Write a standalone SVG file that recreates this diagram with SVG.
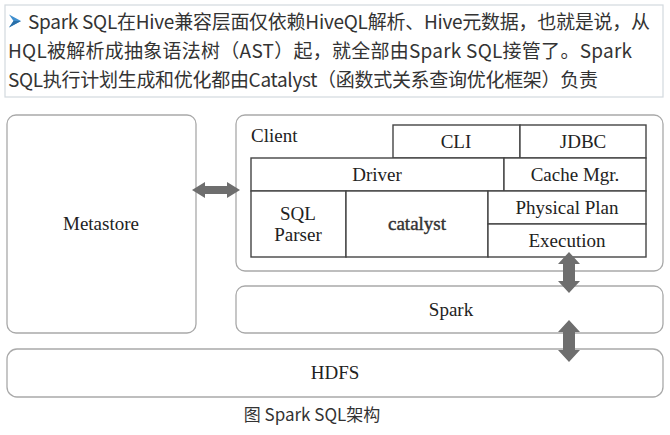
<svg xmlns="http://www.w3.org/2000/svg" width="670" height="435" viewBox="0 0 670 435">
<style>
.outer{fill:#fff;stroke:#a9a9a9;stroke-width:1.3}
.cell{fill:#fff;stroke:#454545;stroke-width:1.4}
.lbl{font-family:"Liberation Serif","Times New Roman",serif;font-size:19px;fill:#222;text-anchor:middle}
.cn{font-family:"Noto Sans CJK SC","Noto Sans",sans-serif;font-size:19px;fill:#333}
.arr{fill:#6e6e6e}
</style>
<rect width="670" height="435" fill="#fff"/>
<g id="intro">
<rect x="5" y="5" width="658" height="92" fill="#fff" stroke="#d3d9de" stroke-width="1.2"/>
<polygon points="9,14.5 21,21 9,27.5 13.5,21" fill="#3f8fcf"/>
<polygon points="13.5,21 21,21 9,27.5" fill="#2a6fa8"/>
<text class="cn" x="28" y="29" textLength="622">Spark SQL在Hive兼容层面仅依赖HiveQL解析、Hive元数据，也就是说，从</text>
<text class="cn" x="8" y="58" textLength="624">HQL被解析成抽象语法树（AST）起，就全部由Spark SQL接管了。Spark</text>
<text class="cn" x="8" y="87" textLength="590">SQL执行计划生成和优化都由Catalyst（函数式关系查询优化框架）负责</text>
</g>
<g id="metastore">
<rect class="outer" x="7" y="115" width="189" height="218" rx="9"/>
<text class="lbl" x="101" y="230">Metastore</text>
</g>
<g id="client">
<rect class="outer" x="236" y="115" width="427" height="156" rx="9"/>
<text class="lbl" x="251" y="142" style="text-anchor:start">Client</text>
</g>
<g id="cli">
<rect class="cell" x="393" y="125" width="127" height="33"/>
<text class="lbl" x="456" y="148">CLI</text>
</g>
<g id="jdbc">
<rect class="cell" x="520" y="125" width="126" height="33"/>
<text class="lbl" x="583" y="148">JDBC</text>
</g>
<g id="driver">
<rect class="cell" x="251" y="158" width="253" height="33"/>
<text class="lbl" x="377" y="181">Driver</text>
</g>
<g id="cache">
<rect class="cell" x="504" y="158" width="142" height="33"/>
<text class="lbl" x="575" y="181">Cache Mgr.</text>
</g>
<g id="sqlparser">
<rect class="cell" x="251" y="191" width="95" height="66"/>
<text class="lbl" x="298" y="220">SQL</text>
<text class="lbl" x="298" y="241">Parser</text>
</g>
<g id="catalyst">
<rect class="cell" x="346" y="191" width="142" height="66"/>
<text class="lbl" x="417" y="230" style="fill:#333;stroke:#333;stroke-width:0.4">catalyst</text>
</g>
<g id="physical">
<rect class="cell" x="488" y="191" width="158" height="33"/>
<text class="lbl" x="567" y="214">Physical Plan</text>
</g>
<g id="execution">
<rect class="cell" x="488" y="224" width="158" height="33"/>
<text class="lbl" x="567" y="247">Execution</text>
</g>
<g id="spark">
<rect class="outer" x="236" y="286" width="427" height="47" rx="9"/>
<text class="lbl" x="451" y="316">Spark</text>
</g>
<g id="hdfs">
<rect class="outer" x="7" y="349" width="656" height="48" rx="10"/>
<text class="lbl" x="335" y="379">HDFS</text>
</g>
<g id="connectors">
<polygon class="arr" points="192,190 205,182 205,186 227,186 227,182 240,190 227,198 227,194 205,194 205,198"/>
<polygon class="arr" points="569,252 580,264 575,264 575,281 580,281 569,293 558,281 563,281 563,264 558,264"/>
<polygon class="arr" points="569,320 580,332 575,332 575,350 580,350 569,362 558,350 563,350 563,332 558,332"/>
</g>
<text x="312" y="421" style="font-family:'Noto Sans CJK SC','Noto Sans',sans-serif;font-size:17px;fill:#333;text-anchor:middle">图 Spark SQL架构</text>
</svg>
